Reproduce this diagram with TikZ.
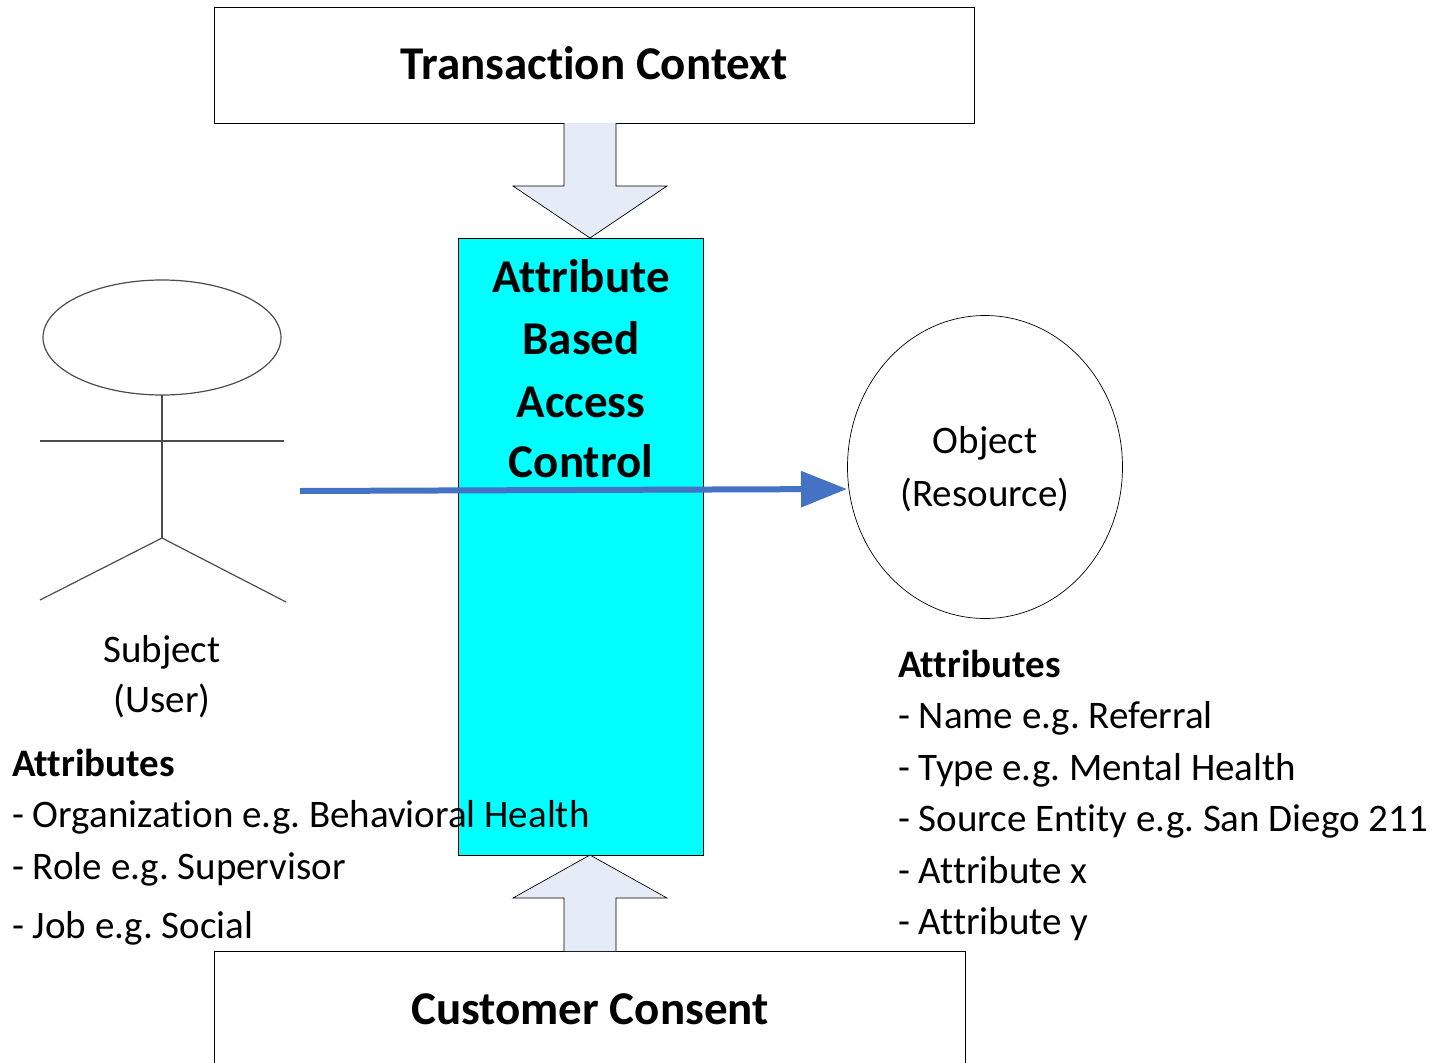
\documentclass[tikz,border=0pt]{standalone}
\usepackage{fontspec}
\setmainfont[Ligatures=NoCommon]{Carlito}
\usetikzlibrary{arrows.meta,shapes.geometric}
\definecolor{arrowfill}{HTML}{E6ECF7}
\definecolor{abac}{HTML}{00FFFF}
\definecolor{flow}{HTML}{4472C4}
\tikzset{
 box/.style={draw=black,line width=0.7pt,fill=white},
 big/.style={font=\fontsize{47}{47}\selectfont\bfseries,inner sep=0pt},
 mid/.style={font=\fontsize{39}{39}\selectfont,inner sep=0pt},
 attr/.style={font=\fontsize{39}{39}\selectfont\frenchspacing,inner sep=0pt,anchor=base west},
 attrhead/.style={font=\fontsize{39}{39}\selectfont\bfseries,inner sep=0pt,anchor=base west},
 fatarrow/.style={draw=black,line width=0.7pt,fill=arrowfill},
 figure/.style={draw=black!70,line width=1.2pt},
}
\begin{document}
\begin{tikzpicture}[x=1pt,y=-1pt]
\useasboundingbox (0,0) rectangle (1433,1063);
% central column
\node[draw=black,line width=0.7pt,fill=abac,minimum width=245pt,minimum height=617pt,inner sep=0pt] (abac) at (581,546.5) {};
\node[big] (a1) at (581,276) {Attribute};
\node[big] (a2) at (581,338) {Based};
\node[big] (a3) at (581,402) {Access};
\node[big] (a4) at (581,461) {Control};
% boxes
\node[box,minimum width=760pt,minimum height=116pt,inner sep=0pt] (tc) at (594,65) {};
\node[big] (tct) at (594,63.5) {Transaction Context};
\node[box,minimum width=751pt,minimum height=130pt,inner sep=0pt] (cc) at (590,1016) {};
\node[big] (cct) at (590,1009.5) {Customer Consent};
% block arrows
\coordinate (tb) at (590,238);
\coordinate (bt) at (590,855);
\draw[fatarrow] (564,123) -- (564,186) -- (513,186) -- (tb) -- (667,186) -- (616,186) -- (616,123);
\draw[fatarrow] (564,951) -- (564,898) -- (513,898) -- (bt) -- (667,898) -- (616,898) -- (616,951);
% actor
\draw[figure] (162,337.5) ellipse [x radius=119, y radius=57.5];
\coordinate (head) at (162,395);
\coordinate (hip) at (162,538);
\draw[figure] (head) -- (hip);
\draw[figure] (40,441) -- (284,441);
\draw[figure] (hip) -- (40,600);
\draw[figure] (hip) -- (286,602);
\node[mid] (subj) at (162,652) {Subject};
\node[mid] (user) at (162,701) {(User)};
% object
\node[draw=black,line width=0.7pt,fill=white,ellipse,minimum width=275pt,minimum height=303pt,inner sep=0pt] (obj) at (985,467) {};
\node[mid] (o1) at (985,443) {Object};
\node[mid] (o2) at (985,495) {(Resource)};
% flow arrow
\coordinate (src) at (300,491);
\coordinate (dst) at (847,489);
\draw[flow,line width=6pt,-{Triangle[length=46pt,width=35pt]}] (src) -- (dst);
% left attrs
\node[attrhead] (l0) at (12,776) {Attributes};
\node[attr] (l1) at (12,827) {- Organization e.g. Behavioral Health};
\node[attr] (l2) at (12,879) {- Role e.g. Supervisor};
\node[attr] (l3) at (12,938) {- Job e.g. Social};
% right attrs
\node[attrhead] (r0) at (898,677) {Attributes};
\node[attr] (r1) at (898,728) {- Name e.g. Referral};
\node[attr] (r2) at (898,780) {- Type e.g. Mental Health};
\node[attr] (r3) at (898,831) {- Source Entity e.g. San Diego 211};
\node[attr] (r4) at (898,883) {- Attribute x};
\node[attr] (r5) at (898,934) {- Attribute y};
\end{tikzpicture}
\end{document}
